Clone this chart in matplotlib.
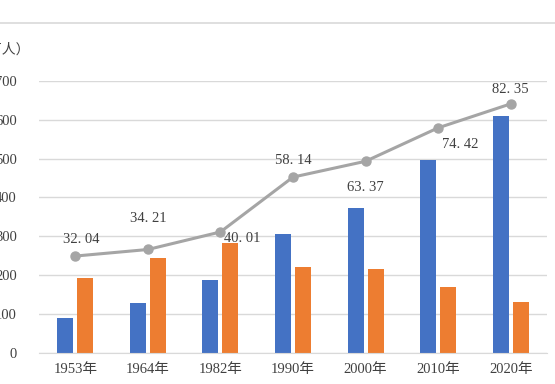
import matplotlib
matplotlib.use("Agg")
import matplotlib.pyplot as plt
import numpy as np
from matplotlib.lines import Line2D

plt.rcParams['font.family'] = ['Liberation Serif', 'Noto Sans CJK SC', 'DejaVu Sans']

# data
years = ["1953年", "1964年", "1982年", "1990年", "2000年", "2010年", "2020年"]
blue_vals = [90, 128, 187, 305, 372, 497, 610]
orange_vals = [192, 244, 282, 220, 215, 170, 131]
line_vals = [32.04, 34.21, 40.01, 58.14, 63.37, 74.42, 82.35]
line_labels = ["32. 04", "34. 21", "40. 01", "58. 14", "63. 37", "74. 42", "82. 35"]
y_ticks = [0, 100, 200, 300, 400, 500, 600, 700]

# label offsets (points) for each line data label
label_offsets = [(4, 12), (0, 22), (16, -5), (0, 12), (0, -19), (16, -12), (0, 10)]

blue = "#4472C4"
orange = "#ED7D31"
grey = "#A5A5A5"
grid = "#D9D9D9"

fig = plt.figure(figsize=(5.55, 3.84), dpi=100)
ax = fig.add_axes([39 / 555, 1 - 353 / 384, 508 / 555, (353 - 80.7) / 384])

x = np.arange(len(years))
w = 0.22
gap = 0.055
ax.bar(x - (w + gap) / 2, blue_vals, width=w, color=blue, zorder=2)
ax.bar(x + (w + gap) / 2, orange_vals, width=w, color=orange, zorder=2)

ax.set_xlim(-0.5, len(years) - 0.5)
ax.set_ylim(0, 700)
ax.set_yticks(y_ticks)
ax.set_yticklabels([str(t) for t in y_ticks], fontsize=10.5, color="#404040")
ax.set_xticks(x)
ax.set_xticklabels(years, fontsize=10.5, color="#404040")
ax.tick_params(axis="y", length=0, pad=16)
ax.tick_params(axis="x", length=0, pad=7)
ax.yaxis.grid(True, color=grid, linewidth=1)
ax.set_axisbelow(True)
for s in ax.spines.values():
    s.set_visible(False)
ax.spines["bottom"].set_visible(True)
ax.spines["bottom"].set_color(grid)

# line on a hidden secondary axis
ax2 = ax.twinx()
ax2.set_ylim(0, 90)
ax2.plot(x, line_vals, color=grey, linewidth=2.2, marker="o", markersize=6.5, zorder=3)
ax2.axis("off")
for xi, v, lab, off in zip(x, line_vals, line_labels, label_offsets):
    ax2.annotate(lab, (xi, v), xytext=off, textcoords="offset points",
                 ha="center", va="center", fontsize=10.5, color="#404040")

# unit label and top border line
fig.text(30 / 555, 1 - 50 / 384, "（万人）", ha="right", va="center",
         fontsize=10, color="#404040", family=['Noto Sans CJK SC', 'DejaVu Sans'])
fig.add_artist(Line2D([0, 1], [1 - 22.5 / 384, 1 - 22.5 / 384], color=grid,
                      linewidth=1.2, transform=fig.transFigure))

fig.savefig("out.png", dpi=100)
